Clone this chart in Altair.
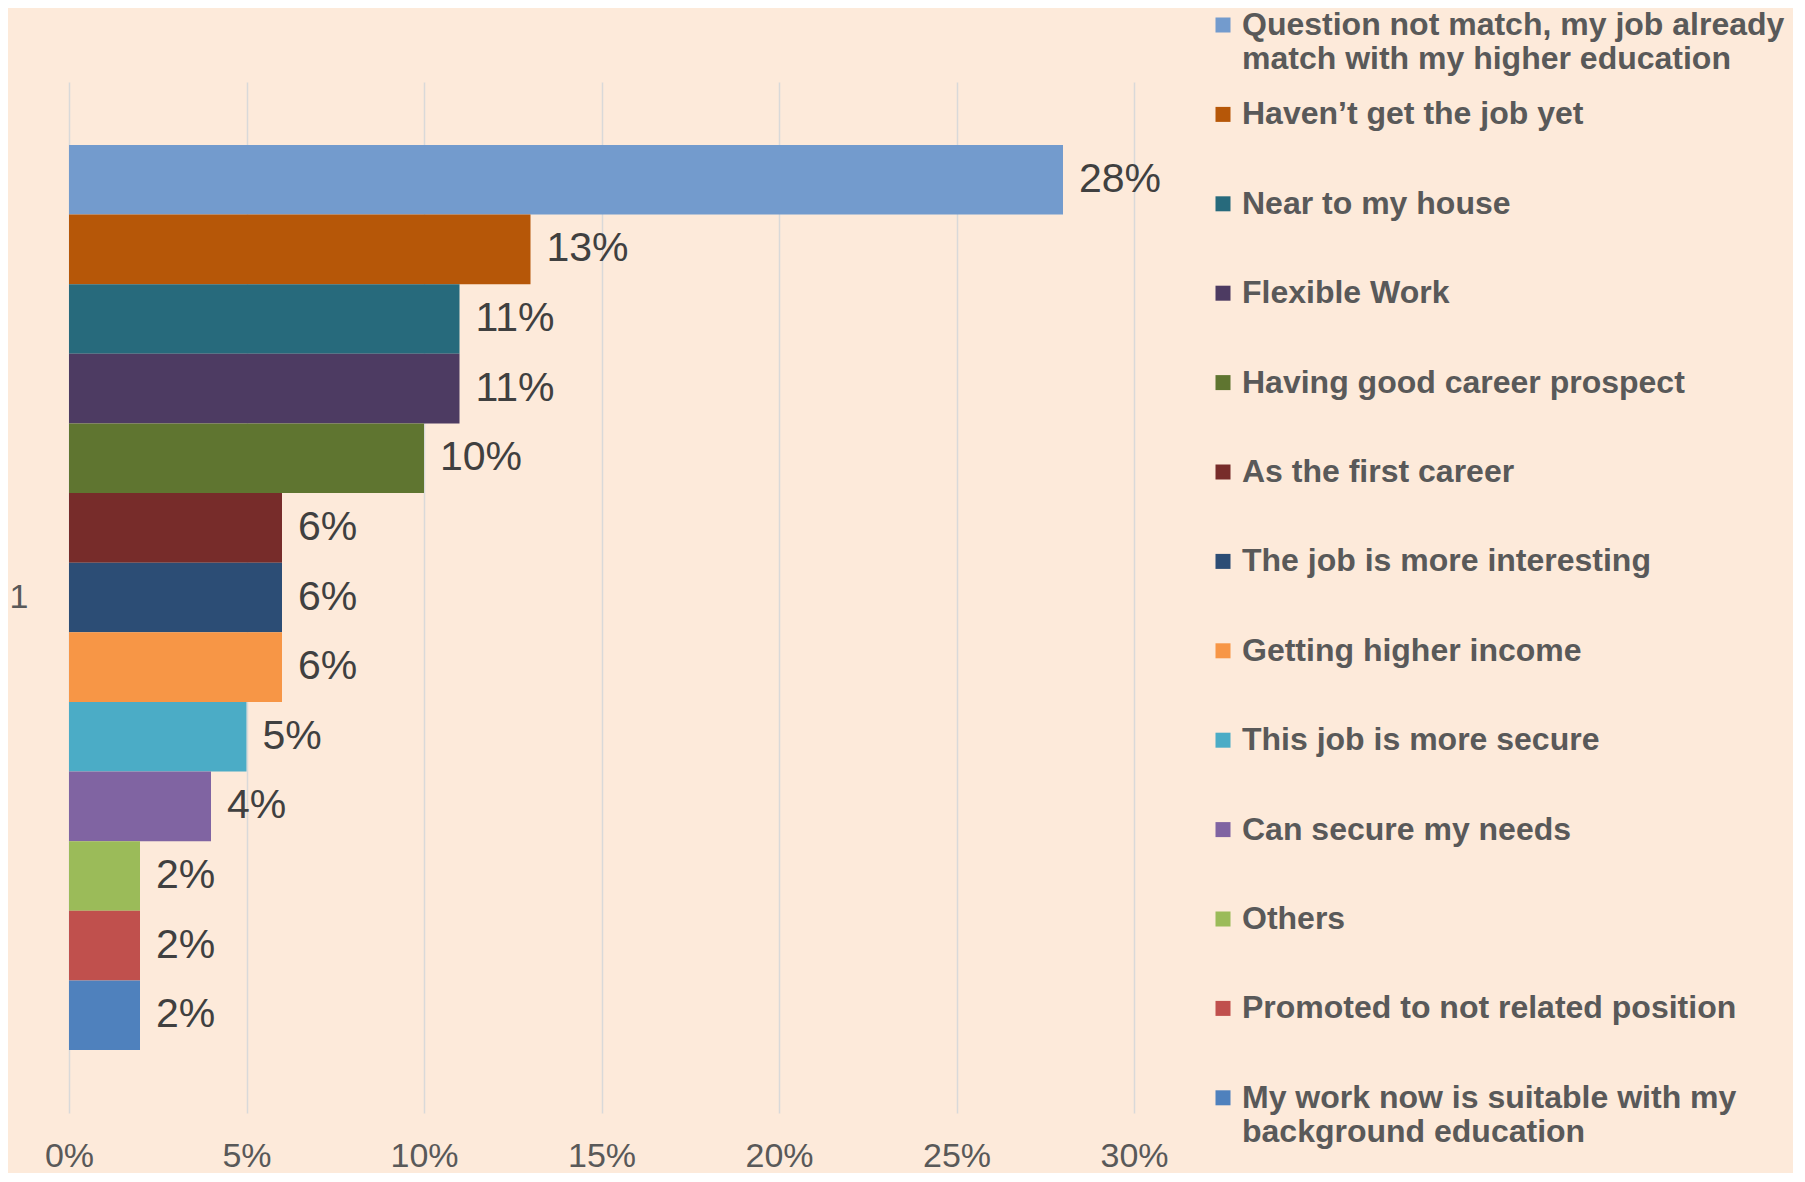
import altair as alt
import pandas as pd

reasons = [
    "Question not match, my job already|match with my higher education",
    "Haven’t get the job yet",
    "Near to my house",
    "Flexible Work",
    "Having good career prospect",
    "As the first career",
    "The job is more interesting",
    "Getting higher income",
    "This job is more secure",
    "Can secure my needs",
    "Others",
    "Promoted to not related position",
    "My work now is suitable with my|background education",
]
shares = [0.28, 0.13, 0.11, 0.11, 0.10, 0.06, 0.06, 0.06, 0.05, 0.04, 0.02, 0.02, 0.02]
colors = [
    "#739BCD", "#B65708", "#276A7C", "#4D3B62", "#5F7530", "#772C2A", "#2C4D75",
    "#F79646", "#4BACC6", "#8064A2", "#9BBB59", "#C0504D", "#4F81BD",
]
category = ["1"] * len(reasons)
x_ticks = [0, 0.05, 0.10, 0.15, 0.20, 0.25, 0.30]

df = pd.DataFrame({"cat": category, "reason": reasons, "share": shares})

FONT = "Liberation Sans, Arial, sans-serif"

base = alt.Chart(df).encode(
    y=alt.Y(
        "cat:N",
        scale=alt.Scale(paddingInner=0, paddingOuter=0.0696),
        axis=alt.Axis(
            title=None, ticks=False, domain=False, labelAngle=0,
            labelFont=FONT, labelFontSize=34, labelColor="#595959", labelPadding=41,
        ),
    ),
    yOffset=alt.YOffset("reason:N", sort=reasons, scale=alt.Scale(paddingInner=0, paddingOuter=0)),
)

bars = base.mark_bar(strokeWidth=0).encode(
    x=alt.X(
        "share:Q",
        scale=alt.Scale(domain=[0, 0.30]),
        axis=alt.Axis(
            values=x_ticks, format=".0%", title=None, grid=True, gridColor="#D9D9D9",
            gridWidth=1.5, domain=False, ticks=False, labelFont=FONT, labelFontSize=34,
            labelColor="#595959", labelPadding=26, labelFlush=False,
        ),
    ),
    color=alt.Color(
        "reason:N",
        sort=reasons,
        scale=alt.Scale(domain=reasons, range=colors),
        legend=alt.Legend(
            title=None, orient="none", legendX=1138, legendY=-73,
            symbolType="square", symbolSize=225, symbolStrokeWidth=0,
            labelFont=FONT, labelFontWeight="bold", labelFontSize=32,
            labelColor="#595959", labelOffset=3, labelLimit=1000,
            labelExpr="split(datum.label, '|')",
            gridAlign="all", rowPadding=23.4,
        ),
    ),
)

text = base.mark_text(
    align="left", baseline="middle", dx=16, fontSize=41, font=FONT, color="#404040"
).encode(
    x=alt.X("share:Q"),
    text=alt.Text("share:Q", format=".0%"),
)

chart = (
    (bars + text)
    .properties(
        width=1065,
        height=1031,
        background="#FDEADA",
        autosize=alt.AutoSizeParams(type="none"),
        padding={"left": 61, "top": 74, "right": 659, "bottom": 60},
    )
    .configure_view(strokeWidth=0)
)

chart.save("out.html", embed_options={"renderer": "svg", "actions": False})
